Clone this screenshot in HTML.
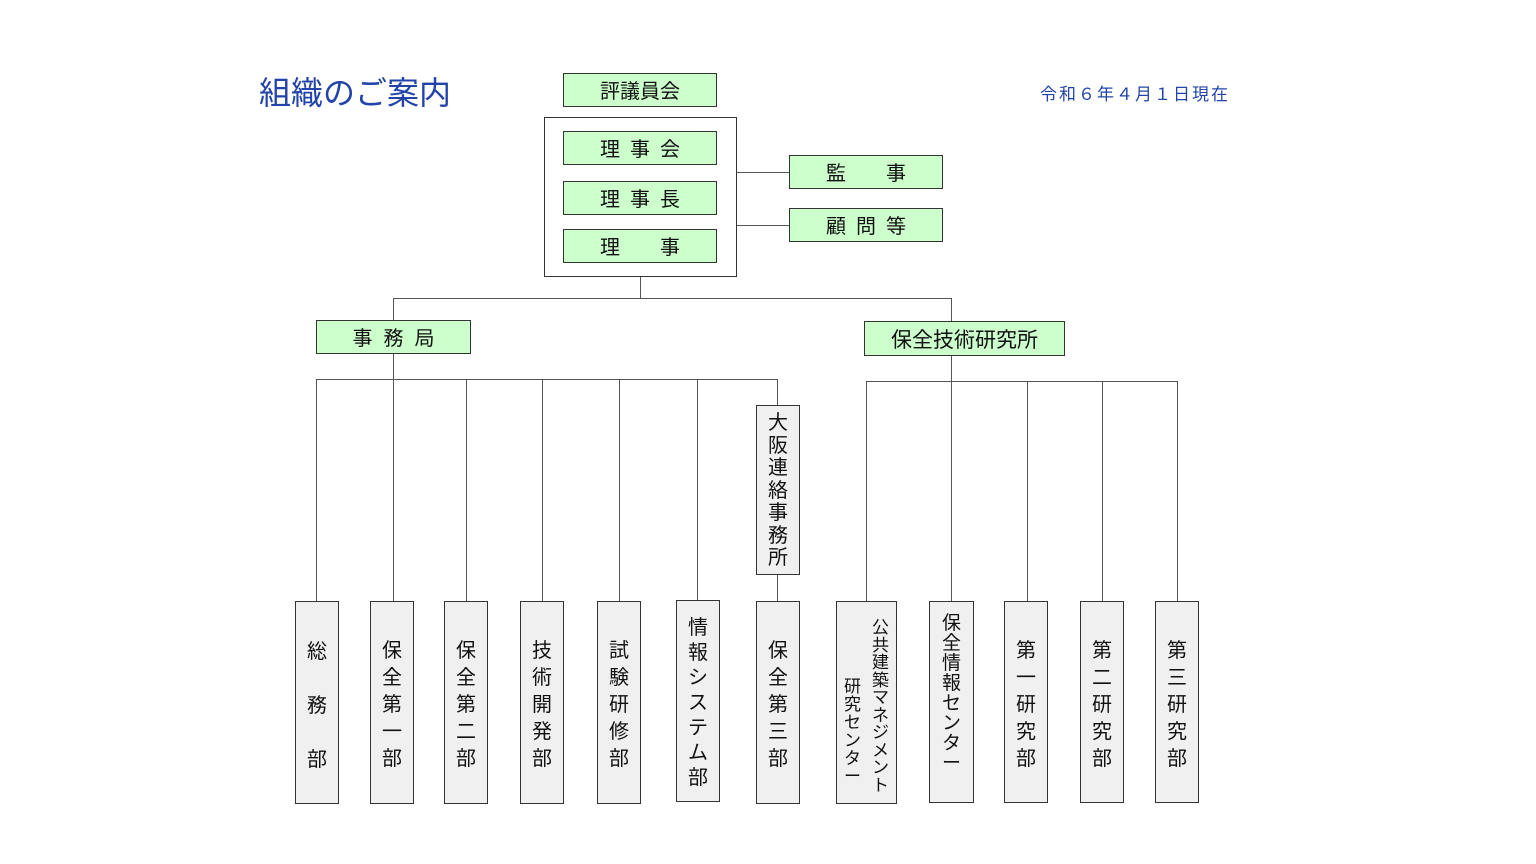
<!DOCTYPE html>
<html><head><meta charset="utf-8"><style>
body{margin:0;width:1536px;height:864px;background:#fff;position:relative;overflow:hidden;font-family:"Liberation Sans","Noto Sans CJK JP",sans-serif;color:#111}
.a{position:absolute;box-sizing:border-box}
.g{background:#ccffcc;border:1.5px solid #333;text-align:center;font-size:20px;padding-top:3px}
.v{background:#f0f0f0;border:1.5px solid #333;}
.t{position:absolute;left:0;right:0;text-align:center;font-size:20px}
.h{position:absolute;height:1px;background:#555}
.w{position:absolute;width:1px;background:#555}
</style></head><body>
<div class="a" style="left:259px;top:68px;font-size:32px;color:#2244aa;white-space:nowrap">組織のご案内</div>
<div class="a" style="left:1040px;top:80px;font-size:17px;letter-spacing:2px;color:#2244aa;white-space:nowrap">令和６年４月１日現在</div>

<div class="a g" style="left:563px;top:73px;width:154px;height:34px;line-height:31px">評議員会</div>
<div class="a" style="left:544px;top:117px;width:193px;height:160px;border:1.5px solid #333"></div>
<div class="a g" style="left:563px;top:131px;width:154px;height:34px;line-height:31px;letter-spacing:10px;text-indent:10px">理事会</div>
<div class="a g" style="left:563px;top:181px;width:154px;height:34px;line-height:31px;letter-spacing:10px;text-indent:10px">理事長</div>
<div class="a g" style="left:563px;top:229px;width:154px;height:34px;line-height:31px;letter-spacing:10px;text-indent:10px">理　事</div>
<div class="a g" style="left:789px;top:155px;width:154px;height:34px;line-height:31px;letter-spacing:10px;text-indent:10px">監　事</div>
<div class="a g" style="left:789px;top:208px;width:154px;height:34px;line-height:31px;letter-spacing:10px;text-indent:10px">顧問等</div>
<div class="h" style="left:737px;top:172px;width:52px"></div>
<div class="h" style="left:737px;top:225px;width:52px"></div>

<div class="w" style="left:640px;top:277px;height:21px"></div>
<div class="h" style="left:393px;top:298px;width:559px"></div>
<div class="w" style="left:393px;top:298px;height:22px"></div>
<div class="w" style="left:951px;top:298px;height:23px"></div>
<div class="a g" style="left:316px;top:320px;width:155px;height:34px;line-height:31px;letter-spacing:11px;text-indent:11px">事務局</div>
<div class="a g" style="left:864px;top:321px;width:201px;height:35px;line-height:32px;font-size:21px">保全技術研究所</div>

<div class="w" style="left:393px;top:354px;height:25px"></div>
<div class="h" style="left:316px;top:379px;width:462px"></div>
<div class="w" style="left:316px;top:379px;height:222px"></div>
<div class="w" style="left:393px;top:379px;height:222px"></div>
<div class="w" style="left:466px;top:379px;height:222px"></div>
<div class="w" style="left:542px;top:379px;height:222px"></div>
<div class="w" style="left:619px;top:379px;height:222px"></div>
<div class="w" style="left:697px;top:379px;height:221px"></div>
<div class="w" style="left:777px;top:379px;height:26px"></div>
<div class="w" style="left:777px;top:574px;height:27px"></div>

<div class="w" style="left:951px;top:356px;height:25px"></div>
<div class="h" style="left:866px;top:381px;width:312px"></div>
<div class="w" style="left:866px;top:381px;height:220px"></div>
<div class="w" style="left:951px;top:381px;height:220px"></div>
<div class="w" style="left:1027px;top:381px;height:220px"></div>
<div class="w" style="left:1102px;top:381px;height:220px"></div>
<div class="w" style="left:1177px;top:381px;height:220px"></div>

<div class="a v" style="left:756px;top:405px;width:44px;height:170px"><div class="t" style="top:6px;line-height:22.5px">大<br>阪<br>連<br>絡<br>事<br>務<br>所</div></div>

<div class="a v" style="left:295px;top:601px;width:44px;height:203px"><div class="t" style="top:23px;line-height:54px">総<br>務<br>部</div></div>
<div class="a v" style="left:370px;top:601px;width:44px;height:203px"><div class="t" style="top:36px;line-height:27px">保<br>全<br>第<br>一<br>部</div></div>
<div class="a v" style="left:444px;top:601px;width:44px;height:203px"><div class="t" style="top:36px;line-height:27px">保<br>全<br>第<br>二<br>部</div></div>
<div class="a v" style="left:520px;top:601px;width:44px;height:203px"><div class="t" style="top:36px;line-height:27px">技<br>術<br>開<br>発<br>部</div></div>
<div class="a v" style="left:597px;top:601px;width:44px;height:203px"><div class="t" style="top:36px;line-height:27px">試<br>験<br>研<br>修<br>部</div></div>
<div class="a v" style="left:676px;top:600px;width:44px;height:202px"><div class="t" style="top:15px;line-height:25px">情<br>報<br>シ<br>ス<br>テ<br>ム<br>部</div></div>
<div class="a v" style="left:756px;top:601px;width:44px;height:203px"><div class="t" style="top:36px;line-height:27px">保<br>全<br>第<br>三<br>部</div></div>

<div class="a v" style="left:836px;top:601px;width:61px;height:203px">
<div class="t" style="left:32px;right:4px;top:17px;line-height:17.5px;font-size:17px">公<br>共<br>建<br>築<br>マ<br>ネ<br>ジ<br>メ<br>ン<br>ト</div>
<div class="t" style="left:4px;right:32px;top:76px;line-height:18px;font-size:17px">研<br>究<br>セ<br>ン<br>タ<br>ー</div></div>
<div class="a v" style="left:929px;top:601px;width:45px;height:202px"><div class="t" style="top:12px;line-height:20px;font-size:19px">保<br>全<br>情<br>報<br>セ<br>ン<br>タ<br>ー</div></div>
<div class="a v" style="left:1004px;top:601px;width:44px;height:202px"><div class="t" style="top:36px;line-height:27px">第<br>一<br>研<br>究<br>部</div></div>
<div class="a v" style="left:1080px;top:601px;width:44px;height:202px"><div class="t" style="top:36px;line-height:27px">第<br>二<br>研<br>究<br>部</div></div>
<div class="a v" style="left:1155px;top:601px;width:44px;height:202px"><div class="t" style="top:36px;line-height:27px">第<br>三<br>研<br>究<br>部</div></div>
</body></html>
